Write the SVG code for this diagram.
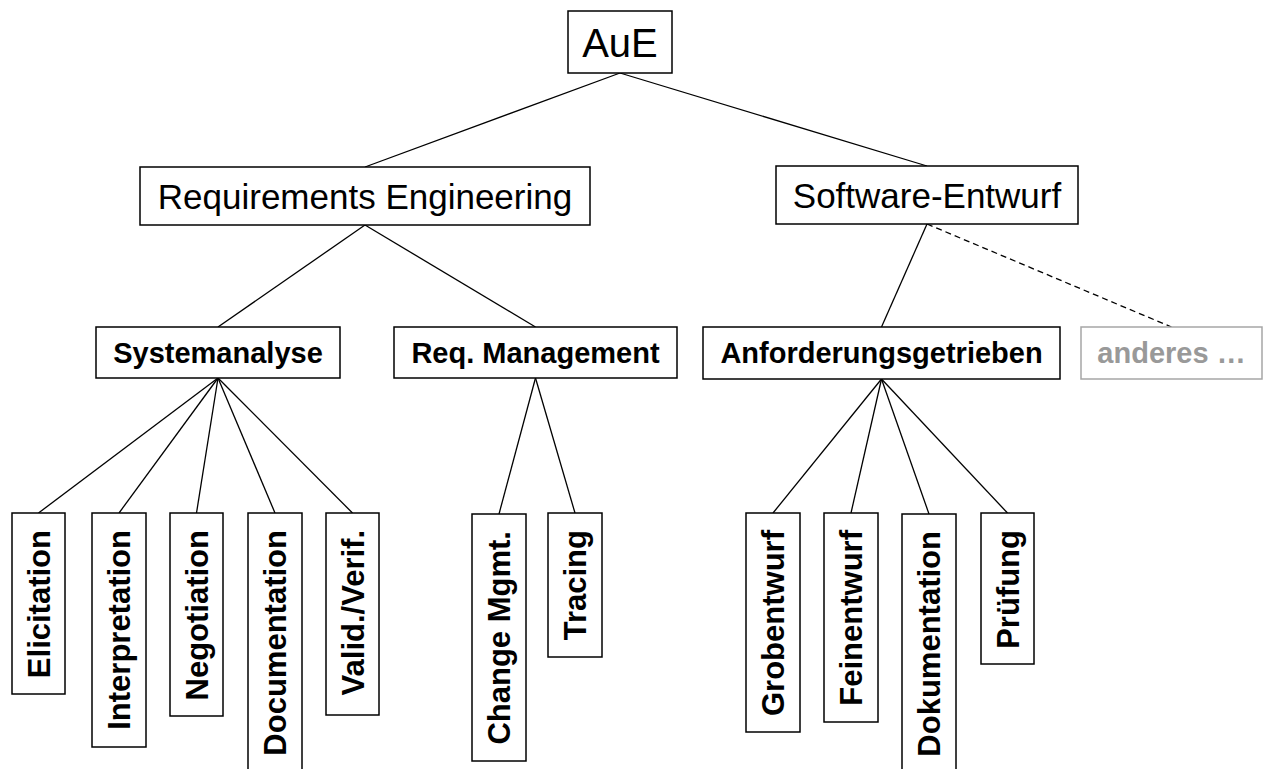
<svg xmlns="http://www.w3.org/2000/svg" width="1263" height="769" viewBox="0 0 1263 769">
<style>
  .box { fill: #ffffff; stroke: #000000; stroke-width: 1.5; }
  .gbox { fill: #ffffff; stroke: #a6a6a6; stroke-width: 1.5; }
  .t1 { font-family: "Liberation Sans", Arial, Helvetica, sans-serif; font-size: 40px; fill: #000; text-anchor: middle; }
  .t2 { font-family: "Liberation Sans", Arial, Helvetica, sans-serif; font-size: 35px; fill: #000; text-anchor: middle; }
  .t3 { font-family: "Liberation Sans", Arial, Helvetica, sans-serif; font-size: 29px; font-weight: bold; fill: #000; text-anchor: middle; }
  .t3g { font-family: "Liberation Sans", Arial, Helvetica, sans-serif; font-size: 29px; font-weight: bold; fill: #999999; text-anchor: middle; }
  .tv { font-family: "Liberation Sans", Arial, Helvetica, sans-serif; font-size: 31px; font-weight: bold; fill: #000; text-anchor: end; }
  .edge { stroke: #000; stroke-width: 1.3; fill: none; }
  .dashed { stroke: #000; stroke-width: 1.3; fill: none; stroke-dasharray: 6 4; }
</style>
<rect width="1263" height="769" fill="#ffffff"/>
<g id="connectors">
  <line class="edge" x1="620" y1="73" x2="365" y2="167"/>
  <line class="edge" x1="620" y1="73" x2="927" y2="166"/>
  <line class="edge" x1="365" y1="225" x2="218" y2="327"/>
  <line class="edge" x1="365" y1="225" x2="535.5" y2="327"/>
  <line class="edge" x1="927" y1="224" x2="881.5" y2="327"/>
  <line class="dashed" x1="927" y1="224" x2="1171.5" y2="327"/>
  <line class="edge" x1="218" y1="378" x2="38.5" y2="513"/>
  <line class="edge" x1="218" y1="378" x2="119" y2="513"/>
  <line class="edge" x1="218" y1="378" x2="196.5" y2="513"/>
  <line class="edge" x1="218" y1="378" x2="275" y2="513"/>
  <line class="edge" x1="218" y1="378" x2="352.5" y2="513"/>
  <line class="edge" x1="535.5" y1="378" x2="499" y2="514"/>
  <line class="edge" x1="535.5" y1="378" x2="575" y2="513"/>
  <line class="edge" x1="881.5" y1="379" x2="773" y2="513"/>
  <line class="edge" x1="881.5" y1="379" x2="851" y2="513"/>
  <line class="edge" x1="881.5" y1="379" x2="929" y2="514"/>
  <line class="edge" x1="881.5" y1="379" x2="1007.5" y2="513"/>
</g>
<g id="n-aue">
  <rect class="box" x="568" y="11" width="104" height="62"/>
  <text class="t1" x="620" y="57">AuE</text>
</g>
<g id="n-re">
  <rect class="box" x="140" y="167" width="450" height="58"/>
  <text class="t2" x="365" y="209">Requirements Engineering</text>
</g>
<g id="n-se">
  <rect class="box" x="776" y="166" width="302" height="58"/>
  <text class="t2" x="927" y="208">Software-Entwurf</text>
</g>
<g id="n-sys">
  <rect class="box" x="96" y="327" width="244" height="51"/>
  <text class="t3" x="218" y="363">Systemanalyse</text>
</g>
<g id="n-reqm">
  <rect class="box" x="394" y="327" width="283" height="51"/>
  <text class="t3" x="535.5" y="363">Req. Management</text>
</g>
<g id="n-anf">
  <rect class="box" x="703" y="327" width="357" height="52"/>
  <text class="t3" x="881.5" y="363">Anforderungsgetrieben</text>
</g>
<g id="n-anderes">
  <rect class="gbox" x="1081" y="327" width="181" height="52"/>
  <text class="t3g" x="1171.5" y="363">anderes …</text>
</g>
<g id="n-elicitation">
  <rect class="box" x="12" y="513" width="53" height="181"/>
  <text class="tv" transform="translate(49.5,530) rotate(-90)">Elicitation</text>
</g>
<g id="n-interpretation">
  <rect class="box" x="92" y="513" width="54" height="234"/>
  <text class="tv" transform="translate(130,530) rotate(-90)">Interpretation</text>
</g>
<g id="n-negotiation">
  <rect class="box" x="170" y="513" width="53" height="203"/>
  <text class="tv" transform="translate(207.5,530) rotate(-90)">Negotiation</text>
</g>
<g id="n-documentation">
  <rect class="box" x="248" y="513" width="54" height="260"/>
  <text class="tv" transform="translate(286,530) rotate(-90)">Documentation</text>
</g>
<g id="n-valid">
  <rect class="box" x="326" y="513" width="53" height="202"/>
  <text class="tv" transform="translate(363.5,530) rotate(-90)">Valid./Verif.</text>
</g>
<g id="n-change">
  <rect class="box" x="472" y="514" width="54" height="247"/>
  <text class="tv" transform="translate(510,531) rotate(-90)">Change Mgmt.</text>
</g>
<g id="n-tracing">
  <rect class="box" x="548" y="513" width="54" height="144"/>
  <text class="tv" transform="translate(586,530) rotate(-90)">Tracing</text>
</g>
<g id="n-grob">
  <rect class="box" x="746" y="513" width="54" height="219"/>
  <text class="tv" transform="translate(784,530) rotate(-90)">Grobentwurf</text>
</g>
<g id="n-fein">
  <rect class="box" x="824" y="513" width="54" height="209"/>
  <text class="tv" transform="translate(862,530) rotate(-90)">Feinentwurf</text>
</g>
<g id="n-doku">
  <rect class="box" x="902" y="514" width="54" height="260"/>
  <text class="tv" transform="translate(940,531) rotate(-90)">Dokumentation</text>
</g>
<g id="n-pruef">
  <rect class="box" x="981" y="513" width="53" height="151"/>
  <text class="tv" transform="translate(1018.5,530) rotate(-90)">Prüfung</text>
</g>
</svg>
